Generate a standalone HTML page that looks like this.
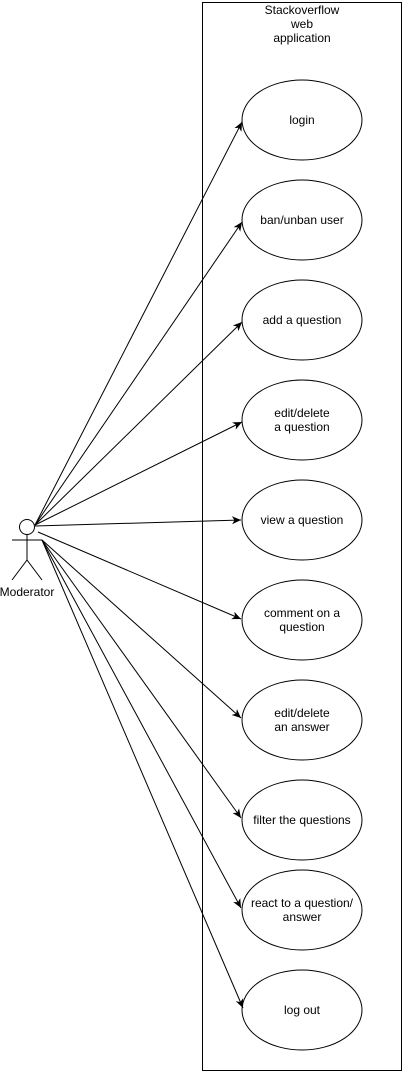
<!DOCTYPE html>
<html><head><meta charset="utf-8"><style>
html,body{margin:0;padding:0;background:#fff;}
svg{display:block;}
text{font-family:"Liberation Sans",Arial,sans-serif;font-size:12px;fill:#000;}
</style></head><body>
<svg width="404" height="1073" viewBox="0 0 404 1073">
<defs><marker id="a" markerWidth="10" markerHeight="10" refX="9" refY="5" orient="auto" markerUnits="userSpaceOnUse"><path d="M0,1 L9,5 L0,9 L2.5,5 Z" fill="#000"/></marker></defs>
<rect x="202.5" y="2.5" width="199" height="1068" fill="none" stroke="#000"/>
<text x="302" y="14" text-anchor="middle">Stackoverflow</text>
<text x="302" y="28" text-anchor="middle">web</text>
<text x="302" y="42" text-anchor="middle">application</text>
<g fill="#fff" stroke="#000">
<ellipse cx="302" cy="120" rx="60" ry="40"/>
<ellipse cx="302" cy="220" rx="60" ry="40"/>
<ellipse cx="302" cy="320" rx="60" ry="40"/>
<ellipse cx="302" cy="420" rx="60" ry="40"/>
<ellipse cx="302" cy="520" rx="60" ry="40"/>
<ellipse cx="302" cy="620" rx="60" ry="40"/>
<ellipse cx="302" cy="720" rx="60" ry="40"/>
<ellipse cx="302" cy="820" rx="60" ry="40"/>
<ellipse cx="302" cy="910" rx="60" ry="40"/>
<ellipse cx="302" cy="1010" rx="60" ry="40"/>
</g>
<g text-anchor="middle">
<text x="302" y="124">login</text>
<text x="302" y="224">ban/unban user</text>
<text x="302" y="324">add a question</text>
<text x="302" y="417">edit/delete</text><text x="302" y="431">a question</text>
<text x="302" y="524">view a question</text>
<text x="302" y="617">comment on a</text><text x="302" y="631">question</text>
<text x="302" y="717">edit/delete</text><text x="302" y="731">an answer</text>
<text x="302" y="824">filter the questions</text>
<text x="302" y="907">react to a question/</text><text x="302" y="921">answer</text>
<text x="302" y="1014">log out</text>
</g>
<g stroke="#000" fill="none" marker-end="url(#a)">
<line x1="35" y1="525" x2="242" y2="122"/>
<line x1="35" y1="525" x2="242" y2="222"/>
<line x1="35" y1="525" x2="242" y2="322"/>
<line x1="35" y1="525" x2="242" y2="422"/>
<line x1="35" y1="526" x2="241" y2="520"/>
<line x1="38" y1="532" x2="241" y2="619"/>
<line x1="42" y1="540" x2="241" y2="718"/>
<line x1="42" y1="540" x2="241" y2="818"/>
<line x1="42" y1="540" x2="241" y2="908"/>
<line x1="42" y1="540" x2="243" y2="1008"/>
</g>
<g stroke="#000" fill="none">
<circle cx="27" cy="527" r="7.5" fill="#fff"/>
<line x1="27" y1="534.5" x2="27" y2="560"/>
<line x1="12" y1="540" x2="42" y2="540"/>
<line x1="27" y1="560" x2="12" y2="580"/>
<line x1="27" y1="560" x2="42" y2="580"/>
</g>
<text x="27" y="596" text-anchor="middle">Moderator</text>
</svg>
</body></html>
